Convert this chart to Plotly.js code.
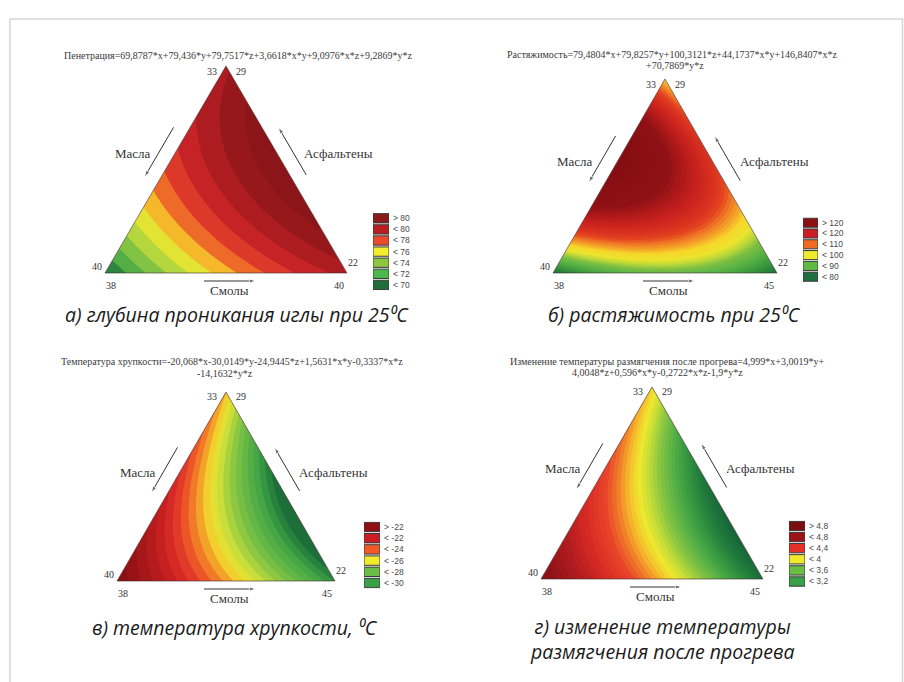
<!DOCTYPE html>
<html>
<head>
<meta charset="utf-8">
<script src="https://cdn.plot.ly/plotly-3.0.1.min.js"></script>
<style>html,body{margin:0;padding:0;background:#fff}#chart{width:904px;height:682px}</style>
</head>
<body>
<div id="chart"></div>
<script>
// ---- DATA ----
// regression coefficients printed above each triangle: [x, y, z, x*y, x*z, y*z]
// x = Масла (bottom-left corner), y = Смолы (bottom-right), z = Асфальтены (top)
const coefPenetration = [69.8787, 79.436, 79.7517, 3.6618, 9.0976, 9.2869];
const coefDuctility   = [79.4804, 79.8257, 100.3121, 44.1737, 146.8407, 70.7869];
const coefBrittle     = [-20.068, -30.0149, -24.9445, 1.5631, -0.3337, -14.1632];
const coefSoftening   = [4.999, 3.0019, 4.0048, 0.596, -0.2722, -1.9];

// legend labels
const legendPenetration = ['> 80', '< 80', '< 78', '< 76', '< 74', '< 72', '< 70'];
const legendDuctility   = ['> 120', '< 120', '< 110', '< 100', '< 90', '< 80'];
const legendBrittle     = ['> -22', '< -22', '< -24', '< -26', '< -28', '< -30'];
const legendSoftening   = ['> 4,8', '< 4,8', '< 4,4', '< 4', '< 3,6', '< 3,2'];

// corner labels: [apex-left, apex-right, bottom-left side, bottom-left below, bottom-right side, bottom-right below]
const cornersA = ['33', '29', '40', '38', '22', '40'];
const cornersB = ['33', '29', '40', '38', '22', '45'];
const cornersC = ['33', '29', '40', '38', '22', '45'];
const cornersD = ['33', '29', '40', '38', '22', '45'];

const titleA = ['Пенетрация=69,8787*x+79,436*y+79,7517*z+3,6618*x*y+9,0976*x*z+9,2869*y*z'];
const titleB = ['Растяжимость=79,4804*x+79,8257*y+100,3121*z+44,1737*x*y+146,8407*x*z', '+70,7869*y*z'];
const titleC = ['Температура хрупкости=-20,068*x-30,0149*y-24,9445*z+1,5631*x*y-0,3337*x*z', '-14,1632*y*z'];
const titleD = ['Изменение температуры размягчения после прогрева=4,999*x+3,0019*y+', '4,0048*z+0,596*x*y-0,2722*x*z-1,9*y*z'];

const captionA = ['а) глубина проникания иглы при 25⁰C'];
const captionB = ['б) растяжимость при 25⁰C'];
const captionC = ['в) температура хрупкости, ⁰C'];
const captionD = ['г) изменение температуры<br>размягчения после прогрева'];

const axisNames = ['Масла', 'Асфальтены', 'Смолы'];

// ---- STYLES ----
const W = 904, HP = 682;
const H = Math.sqrt(3) / 2;
const SERIF = 'Liberation Serif, Times New Roman, serif';
const SANS = 'Liberation Sans, Arial, sans-serif';
const CAPFONT = 'Open Sans, Noto Sans, DejaVu Sans, sans-serif';

const panels = [
  { coef: coefPenetration, legend: legendPenetration, corners: cornersA, title: titleA, caption: captionA,
    geom: {bx: 105, by: 273, w: 242, ay: 66},
    levels: {start: 70, end: 82, size: 1},
    stops: [[69.5,'#1d6b3b'],[70.5,'#3e9f44'],[71.5,'#6cbb46'],[72.5,'#9acb40'],[73.5,'#cfe03a'],[74.5,'#f7e52e'],
            [75.5,'#f28a28'],[76.5,'#e84a2a'],[77.5,'#d2282a'],[78.5,'#b81e22'],[79.5,'#a0191d'],[80.5,'#8e1619'],[81.5,'#8a1418']],
    legColors: ['#8b1a1a','#b81e22','#ea4b2a','#f3ec2f','#8cc540','#4db849','#1f6e3c'],
    leg: {x0: 373, x1: 389, y0: 218.3, dy: 11.1},
    titlePos: [[238, 55]], capPos: [[237, 314]] },
  { coef: coefDuctility, legend: legendDuctility, corners: cornersB, title: titleB, caption: captionB,
    geom: {bx: 553, by: 273, w: 224, ay: 79},
    levels: {start: 80, end: 126, size: 1},
    stops: [[79,'#1d6e3a'],[82,'#2a843b'],[86,'#45a33f'],[89,'#5db446'],[92,'#7cbf42'],[94.5,'#b9d83a'],[97,'#ece42c'],
            [100,'#f6d62b'],[102,'#f5a928'],[104.5,'#ef7a25'],[106.5,'#e5481f'],[109,'#da3320'],[113,'#c8221e'],[116.5,'#ac1819'],
            [119,'#901215'],[126,'#860e12']],
    legColors: ['#8c0f14','#c81e24','#f06a24','#eeea2c','#62b946','#1f7040'],
    leg: {x0: 803, x1: 818, y0: 222.7, dy: 10.8},
    titlePos: [[672.5, 54.5], [675, 65.5]], capPos: [[674, 314]] },
  { coef: coefBrittle, legend: legendBrittle, corners: cornersC, title: titleC, caption: captionC,
    geom: {bx: 117, by: 581, w: 218, ay: 392},
    levels: {start: -31, end: -20.5, size: 0.5},
    stops: [[-31,'#1d6e38'],[-30.3,'#2c8a3e'],[-29.5,'#45a645'],[-28.3,'#68ba46'],[-27.2,'#9ccd40'],[-26.4,'#cfe03a'],
            [-25.7,'#f2e02e'],[-24.9,'#f39a28'],[-24.1,'#ee5a28'],[-23.3,'#de2f28'],[-22.5,'#c51f20'],[-21.5,'#a51719'],[-20.5,'#8a0f13']],
    legColors: ['#8c1014','#c81e24','#ef5a28','#eeea2c','#6cbd45','#3aa048'],
    leg: {x0: 364, x1: 380, y0: 527, dy: 11.2},
    titlePos: [[405, 361, 'right'], [225, 374]], capPos: [[235, 627]] },
  { coef: coefSoftening, legend: legendSoftening, corners: cornersD, title: titleD, caption: captionD,
    geom: {bx: 541, by: 579, w: 222, ay: 387},
    levels: {start: 2.9, end: 5.0, size: 0.05},
    stops: [[2.9,'#17663a'],[3.1,'#237d3c'],[3.3,'#3a9c42'],[3.45,'#55b046'],[3.63,'#86c442'],[3.78,'#c2dc38'],[3.91,'#f1e82e'],
            [4.04,'#f5b82b'],[4.16,'#f07c2a'],[4.3,'#e8442a'],[4.5,'#d82a25'],[4.7,'#b01c1f'],[4.9,'#8e1216'],[5.0,'#861014']],
    legColors: ['#7a0e12','#9c1418','#e43026','#f0e82c','#6cbd45','#3aa048'],
    leg: {x0: 789, x1: 805, y0: 526, dy: 11.1},
    titlePos: [[827, 361, 'right'], [657, 372]], capPos: [[662, 639]] }
];

// surface on the triangle from the printed regression (pseudo-components)
function surface(coef, nx, ny) {
  const xs = [], ys = [], zs = [];
  for (let i = 0; i < nx; i++) xs.push(i / (nx - 1));
  for (let j = 0; j < ny; j++) ys.push(H * j / (ny - 1));
  for (const Y of ys) {
    const row = [];
    for (const X of xs) {
      const c = Y / H, b = X - c / 2, a = 1 - b - c;
      row.push(coef[0]*a + coef[1]*b + coef[2]*c + coef[3]*a*b + coef[4]*a*c + coef[5]*b*c);
    }
    zs.push(row);
  }
  return {xs, ys, zs};
}

function buildScale(stops, lv) {
  const lo = lv.start - lv.size;
  const nc = Math.floor((lv.end - lv.start) / lv.size + 1e-9) + 1;
  const hi = lv.start + (nc - 1) * lv.size;
  let out = stops.map(([v, c]) => [Math.min(1, Math.max(0, (v - lo) / (hi - lo))), c]);
  out.sort((p, q) => p[0] - q[0]);
  const ded = [];
  out.forEach(p => { if (!ded.length || p[0] > ded[ded.length - 1][0] + 1e-6) ded.push(p); });
  if (ded[0][0] > 0) ded.unshift([0, ded[0][1]]); else ded[0][0] = 0;
  if (ded[ded.length - 1][0] < 1) ded.push([1, ded[ded.length - 1][1]]); else ded[ded.length - 1][0] = 1;
  return ded;
}

const data = [], shapes = [], annotations = [];
const layout = {
  width: W, height: HP, margin: {l: 0, r: 0, t: 0, b: 0},
  paper_bgcolor: '#fff', plot_bgcolor: 'rgba(0,0,0,0)',
  showlegend: false, font: {family: SANS, color: '#333'}
};

function arrowTrace(xr, yr, tail, head) {
  return {type: 'scatter', mode: 'lines+markers', x: [tail[0], head[0]], y: [tail[1], head[1]], xaxis: xr, yaxis: yr,
    line: {color: '#333', width: 1, backoff: 'auto'},
    marker: {symbol: ['circle', 'arrow'], size: [0, 7], angleref: 'previous', color: '#333'},
    cliponaxis: false, hoverinfo: 'skip', showlegend: false};
}
function maskTrace(xr, yr, xs, ys) {
  return {type: 'scatter', mode: 'lines', x: xs, y: ys, xaxis: xr, yaxis: yr, fill: 'toself', fillcolor: '#fff',
    line: {width: 0, color: 'rgba(0,0,0,0)'}, hoverinfo: 'skip', showlegend: false};
}

panels.forEach((p, k) => {
  const n = k + 1;
  const sfx = n === 1 ? '' : String(n);
  const xr = 'x' + sfx, yr = 'y' + sfx;
  const g = p.geom;
  const sx = g.w, sy = (g.by - g.ay) / H, pad = 12;
  layout['xaxis' + sfx] = {domain: [(g.bx - pad) / W, (g.bx + g.w + pad) / W], range: [-pad / sx, 1 + pad / sx],
    visible: false, fixedrange: true, anchor: yr};
  layout['yaxis' + sfx] = {domain: [1 - (g.by + pad) / HP, 1 - (g.ay - pad) / HP], range: [-pad / sy, H + pad / sy],
    visible: false, fixedrange: true, anchor: xr};

  const s = surface(p.coef, 161, 141);
  data.push({type: 'contour', x: s.xs, y: s.ys, z: s.zs, xaxis: xr, yaxis: yr,
    autocontour: false, contours: {start: p.levels.start, end: p.levels.end, size: p.levels.size, coloring: 'fill', showlines: false},
    line: {width: 0}, colorscale: buildScale(p.stops, p.levels), showscale: false, hoverinfo: 'skip'});

  // white masks outside the triangle, then its outline
  data.push(maskTrace(xr, yr, [-0.3, 0, 0.5, 0.5, -0.3, -0.3], [-0.001, -0.001, H, H + 0.3, H + 0.3, -0.001]));
  data.push(maskTrace(xr, yr, [1.3, 1, 0.5, 0.5, 1.3, 1.3], [-0.001, -0.001, H, H + 0.3, H + 0.3, -0.001]));
  data.push({type: 'scatter', mode: 'lines', x: [0, 1, 0.5, 0], y: [0, 0, H, 0], xaxis: xr, yaxis: yr,
    line: {color: 'rgba(60,40,40,0.75)', width: 0.8}, cliponaxis: false, hoverinfo: 'skip', showlegend: false});

  // corner labels
  const cf = {family: SERIF, size: 10, color: '#333'};
  const cb = {xref: xr, yref: yr, showarrow: false, font: cf};
  annotations.push({...cb, x: 0.5, y: H, text: p.corners[0], xshift: -14, yshift: -5});
  annotations.push({...cb, x: 0.5, y: H, text: p.corners[1], xshift: 15, yshift: -5});
  annotations.push({...cb, x: 0, y: 0, text: p.corners[2], xshift: -8, yshift: 7});
  annotations.push({...cb, x: 0, y: 0, text: p.corners[3], xshift: 6, yshift: -12});
  annotations.push({...cb, x: 1, y: 0, text: p.corners[4], xshift: 6, yshift: 11});
  annotations.push({...cb, x: 1, y: 0, text: p.corners[5], xshift: -8, yshift: -12});

  // axis names
  const lf = {family: SERIF, size: 13, color: '#333'};
  const tL = 0.575;
  annotations.push({xref: xr, yref: yr, showarrow: false, font: lf, text: axisNames[0], x: 0.5 * tL, y: H * tL, xshift: -42});
  annotations.push({xref: xr, yref: yr, showarrow: false, font: lf, text: axisNames[1], x: 1 - 0.5 * tL, y: H * tL, xanchor: 'left', xshift: 25});
  annotations.push({xref: xr, yref: yr, showarrow: false, font: lf, text: axisNames[2], x: 0.5, y: 0, xshift: 3, yshift: -17, borderpad: 0});

  // direction arrows beside the sides (offset outward in pixels)
  const ox = 12.5 / sx, oy = 7 / sy;
  data.push(arrowTrace(xr, yr, [0.5 * 0.67 - ox, H * 0.67 + oy], [0.5 * 0.43 - ox, H * 0.43 + oy]));
  data.push(arrowTrace(xr, yr, [1 - 0.5 * 0.44 + ox, H * 0.44 + oy], [1 - 0.5 * 0.67 + ox, H * 0.67 + oy]));
  data.push(arrowTrace(xr, yr, [0.5 - 22 / sx, -8 / sy], [0.5 + 30 / sx, -8 / sy]));

  // equation titles
  p.title.forEach((t, i) => {
    const pos = p.titlePos[i];
    annotations.push({xref: 'paper', yref: 'paper', x: pos[0] / W, y: 1 - pos[1] / HP, xanchor: pos[2] || 'center', yanchor: 'middle',
      showarrow: false, text: t, font: {family: SERIF, size: 10, color: '#3a3a3a'}});
  });
  // captions
  p.caption.forEach((t, i) => {
    const pos = p.capPos[i];
    annotations.push({xref: 'paper', yref: 'paper', x: pos[0] / W, y: 1 - pos[1] / HP, xanchor: 'center', yanchor: 'middle',
      align: 'center', showarrow: false, borderpad: 0, text: t,
      font: {family: CAPFONT, size: 19.5, style: 'italic', color: '#1a1a1a'}});
  });

  // legend swatches
  const m = n + 4;
  const lx = 'x' + m, ly = 'y' + m;
  const L = p.leg, nl = p.legend.length;
  const top = L.y0 - L.dy / 2, bot = L.y0 + (nl - 1) * L.dy + L.dy / 2;
  layout['xaxis' + m] = {domain: [L.x0 / W, L.x1 / W], range: [0, 1], visible: false, fixedrange: true, anchor: ly};
  layout['yaxis' + m] = {domain: [1 - bot / HP, 1 - top / HP], type: 'category', categoryorder: 'array', categoryarray: p.legend,
    range: [nl - 0.5, -0.5], side: 'right', anchor: lx, showgrid: false, zeroline: false, showline: false, ticks: '',
    ticklabelstandoff: 3, tickfont: {family: SANS, size: 8.5, color: '#4a4a4a'}, fixedrange: true};
  data.push({type: 'bar', orientation: 'h', x: p.legend.map(() => 1), y: p.legend, xaxis: lx, yaxis: ly, width: 0.84,
    marker: {color: p.legColors, line: {color: '#3a3a3a', width: 1}}, hoverinfo: 'skip', showlegend: false});
});

// outer frame
shapes.push({type: 'rect', xref: 'paper', yref: 'paper', x0: 10 / W, x1: 902.5 / W, y0: -0.05, y1: 1 - 19 / HP,
  line: {color: '#d6d6d6', width: 1.5}, fillcolor: 'rgba(0,0,0,0)', layer: 'below'});

layout.shapes = shapes;
layout.annotations = annotations;

Plotly.newPlot('chart', data, layout, {displayModeBar: false, staticPlot: true});
</script>
</body>
</html>
